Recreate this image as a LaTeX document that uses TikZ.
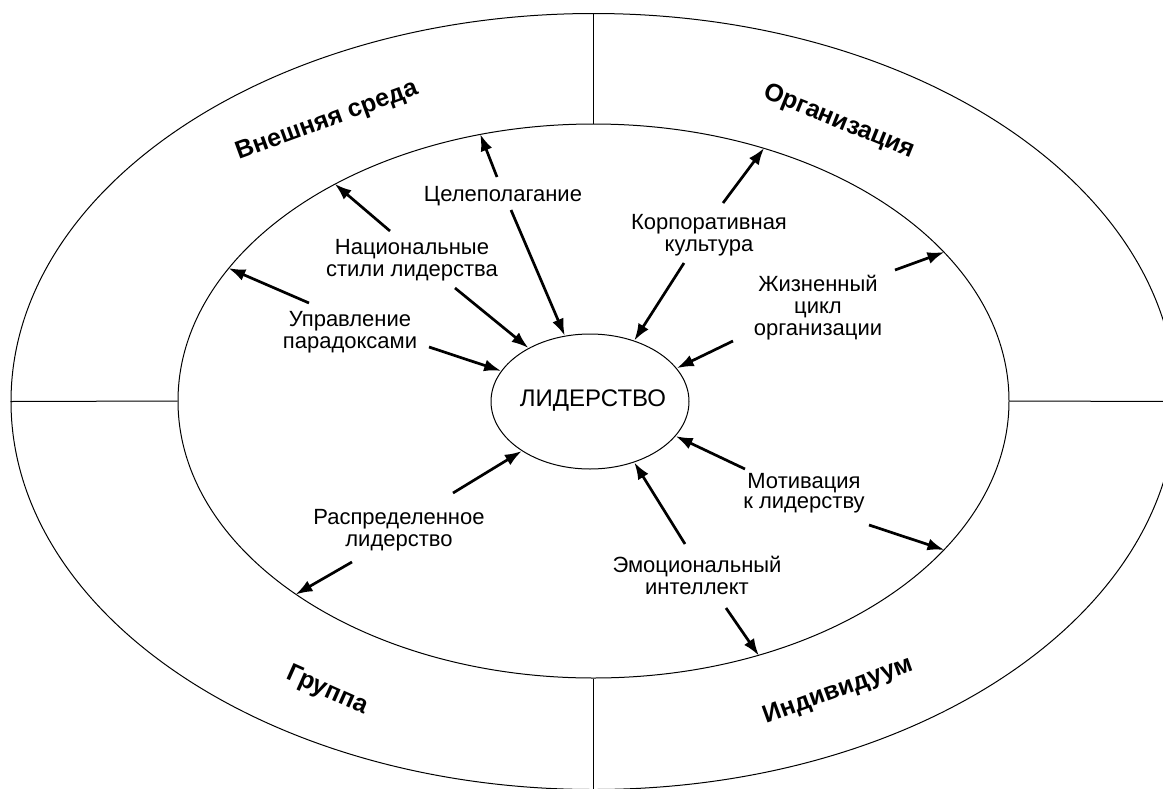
\documentclass[tikz,border=0pt]{standalone}
\usepackage{fontspec}
\setmainfont{Liberation Sans}
\usetikzlibrary{arrows.meta,shapes.geometric}
\tikzset{
  ring/.style={draw, ellipse, inner sep=0pt, line width=1pt},
  divider/.style={line width=1pt},
  lbl/.style={align=center, inner sep=0pt, font=\fontsize{22}{22}\selectfont},
  zone/.style={inner sep=0pt, font=\bfseries\fontsize{25}{26}\selectfont},
  arr/.style={line width=2.7pt, -{Latex[length=17pt,width=12pt]}},
}
\begin{document}
\begin{tikzpicture}[x=1pt,y=-1pt]
\useasboundingbox (0,0) rectangle (1163,788);
\clip (0,0) rectangle (1163,788);
\fill[white] (0,0) rectangle (1163,788);
% rings
\node[ring, minimum width=1165pt, minimum height=776pt] (outer) at (593.5,401.5) {};
\node[ring, minimum width=831pt, minimum height=554pt] (inner) at (593.5,401) {};
\node[ring, minimum width=198pt, minimum height=135pt] (C) at (590,401.5) {};
\node[font=\fontsize{24}{25}\selectfont, inner sep=0pt] (lead) at (593,401) {ЛИДЕРСТВО};
% dividers
\draw[divider] (outer.north) -- (inner.north);
\draw[divider] (inner.south) -- (outer.south);
\draw[divider] (outer.west) -- (inner.west);
\draw[divider] (inner.east) -- (outer.east);
% zone labels
\node[zone, rotate=20] (ext) at (327,121) {Внешняя среда};
\node[zone, rotate=-22] (org) at (839,122) {Организация};
\node[zone, rotate=-24] (grp) at (327,691) {Группа};
\node[zone, rotate=20] (ind) at (838,691) {Индивидуум};
% factor labels
\node[lbl] (t1) at (503,196) {Целеполагание};
\node[lbl] (t2) at (412,260) {Национальные\\стили лидерства};
\node[lbl] (t3) at (350,332) {Управление\\парадоксами};
\node[lbl] (t4) at (709,235) {Корпоративная\\культура};
\node[lbl] (t5) at (818,308) {Жизненный\\цикл\\организации};
\node[lbl, font=\fontsize{22}{20}\selectfont] (t6) at (804,493) {Мотивация\\к лидерству};
\node[lbl] (t7) at (697,575) {Эмоциональный\\интеллект};
\node[lbl] (t8) at (399,530) {Распределенное\\лидерство};
% arrow tails
\coordinate (s1a) at (497,177);
\coordinate (s1b) at (511,210);
\coordinate (s2a) at (390,231);
\coordinate (s2b) at (455,288);
\coordinate (s3a) at (309,303);
\coordinate (s3b) at (429,347);
\coordinate (s4a) at (723,203);
\coordinate (s4b) at (684,263);
\coordinate (s5a) at (895,270);
\coordinate (s5b) at (733,341);
\coordinate (s6a) at (745,469);
\coordinate (s6b) at (869,525);
\coordinate (s7a) at (685,544);
\coordinate (s7b) at (726,608);
\coordinate (s8a) at (453,493);
\coordinate (s8b) at (352,562);
% arrows
\draw[arr] (s1a) -- (inner.113.5);
\draw[arr] (s1b) -- (C.111.5);
\draw[arr] (s2a) -- (inner.140.2);
\draw[arr] (s2b) -- (C.139.6);
\draw[arr] (s3a) -- (inner.160.9);
\draw[arr] (s3b) -- (C.161.5);
\draw[arr] (s4a) -- (inner.56.9);
\draw[arr] (s4b) -- (C.54.7);
\draw[arr] (s5a) -- (inner.23.5);
\draw[arr] (s5b) -- (C.21);
\draw[arr] (s6a) -- (C.-22.8);
\draw[arr] (s6b) -- (inner.-23.8);
\draw[arr] (s7a) -- (C.-54.9);
\draw[arr] (s7b) -- (inner.-57.1);
\draw[arr] (s8a) -- (C.-144.2);
\draw[arr] (s8b) -- (inner.213.4);
\end{tikzpicture}
\end{document}
